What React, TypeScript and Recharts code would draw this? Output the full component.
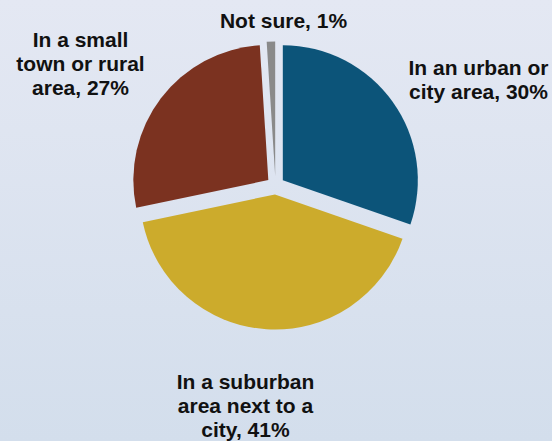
import { PieChart, Pie, Cell } from "recharts";

const categories = [
  "In an urban or city area",
  "In a suburban area next to a city",
  "In a small town or rural area",
  "Not sure",
];
const shares = [30, 41, 27, 1];
const labelText = [
  ["In an urban or", "city area, 30%"],
  ["In a suburban", "area next to a", "city, 41%"],
  ["In a small", "town or rural", "area, 27%"],
  ["Not sure, 1%"],
];
const colors = ["#0C5479", "#CCAB2C", "#7B3220", "#8A8A8A"];

// where each label's first baseline sits, relative to the pie centre
const labelOffset = [
  { dx: 203, dy: -111 },
  { dx: -30, dy: 203 },
  { dx: -195, dy: -139 },
  { dx: 8, dy: -158 },
];

const W = 552;
const H = 441;
const CX = 275.5;
const CY = 185.5;
const R = 135;
const EXPLODE = 9;
const FONT = "'Liberation Sans', Arial, sans-serif";

const data = categories.map((name, i) => ({ name, value: shares[i] }));
const total = shares.reduce((a, b) => a + b, 0);

function sliceOffset(i: number) {
  const before = shares.slice(0, i).reduce((a, b) => a + b, 0);
  const mid = ((before + shares[i] / 2) / total) * 2 * Math.PI;
  return { x: EXPLODE * Math.sin(mid), y: -EXPLODE * Math.cos(mid) };
}

function renderLabel(i: number) {
  const off = labelOffset[i];
  return (
    <text
      key={"lbl" + i}
      x={CX + off.dx}
      y={CY + off.dy}
      textAnchor="middle"
      fontFamily={FONT}
      fontSize={21}
      fontWeight="bold"
      fill="#111"
    >
      {labelText[i].map((line, k) => (
        <tspan key={k} x={CX + off.dx} dy={k === 0 ? 0 : 24}>
          {line}
        </tspan>
      ))}
    </text>
  );
}

export default function App() {
  return (
    <div
      style={{
        position: "absolute",
        left: 0,
        top: 0,
        width: W,
        height: H,
        background: "linear-gradient(#E4E8F3, #D3DEEC)",
      }}
    >
      <PieChart width={W} height={H} margin={{ top: 0, right: 0, bottom: 0, left: 0 }}>
        {data.map((_, i) => {
          const o = sliceOffset(i);
          return (
            <Pie
              key={i}
              data={data}
              dataKey="value"
              cx={CX + o.x}
              cy={CY + o.y}
              outerRadius={R}
              startAngle={90}
              endAngle={-270}
              stroke="none"
              isAnimationActive={false}
              labelLine={false}
              label={(p: any) => (p.index === i ? renderLabel(i) : null)}
            >
              {data.map((_, j) => (
                <Cell
                  key={j}
                  fill={j === i ? colors[j] : "transparent"}
                  stroke="none"
                />
              ))}
            </Pie>
          );
        })}
      </PieChart>
    </div>
  );
}
